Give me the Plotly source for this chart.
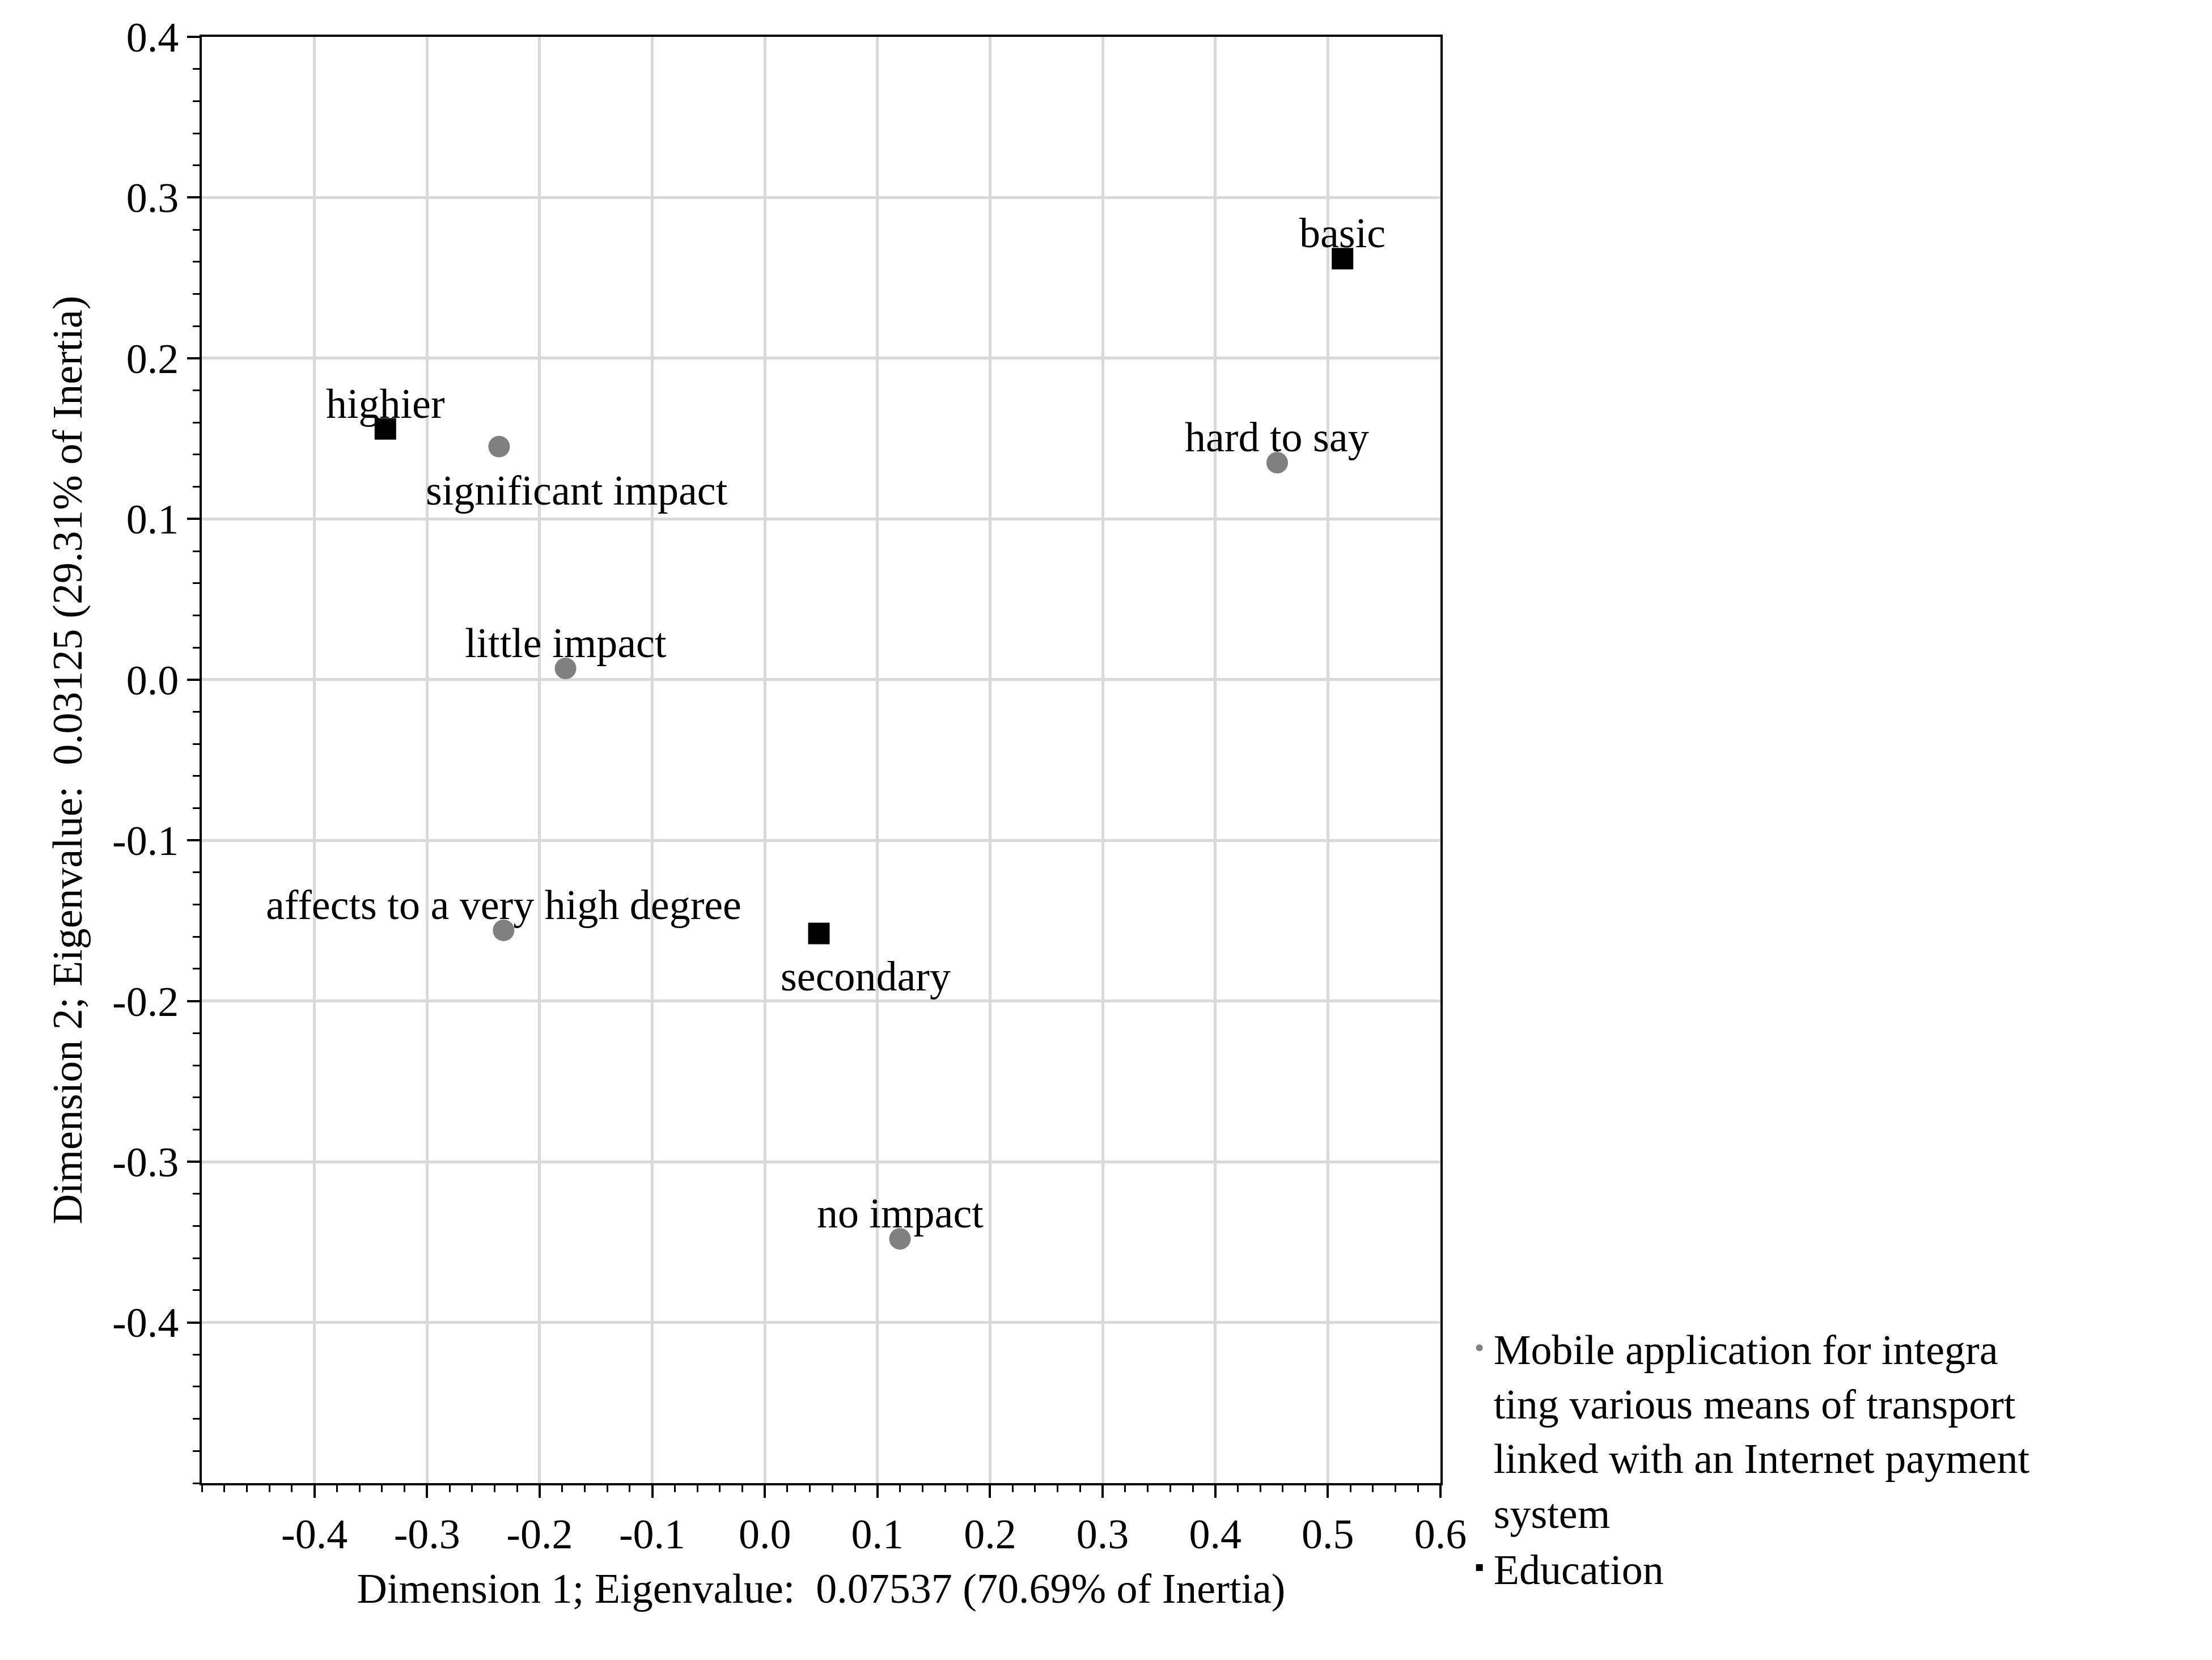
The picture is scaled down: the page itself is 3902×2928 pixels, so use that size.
import plotly.graph_objects as go

# Row points: Mobile application ... (impact)
rows_labels = ["significant impact", "little impact", "affects to a very high degree", "no impact", "hard to say"]
rows_x = [-0.236, -0.177, -0.232, 0.120, 0.455]
rows_y = [0.145, 0.007, -0.156, -0.348, 0.135]

# Column points: Education
cols_labels = ["highier", "secondary", "basic"]
cols_x = [-0.337, 0.048, 0.513]
cols_y = [0.156, -0.158, 0.262]

x_ticks = [-0.4, -0.3, -0.2, -0.1, 0.0, 0.1, 0.2, 0.3, 0.4, 0.5, 0.6]
y_ticks = [-0.4, -0.3, -0.2, -0.1, 0.0, 0.1, 0.2, 0.3, 0.4]

font = dict(family="Liberation Serif", size=74, color="black")

fig = go.Figure()
fig.add_trace(go.Scatter(
    x=rows_x, y=rows_y, mode="markers", cliponaxis=False,
    marker=dict(color="#808080", size=38, symbol="circle"),
    name="Mobile application for integra<br>ting various means of transport<br>linked with an Internet payment<br>system",
))
fig.add_trace(go.Scatter(
    x=cols_x, y=cols_y, mode="markers", cliponaxis=False,
    marker=dict(color="black", size=38, symbol="square"),
    name="Education",
))

# label offsets (pixels) relative to the points
shifts = {
    "significant impact": (137, -77),
    "secondary": (82, -75),
}
for labels, xs, ys in [(rows_labels, rows_x, rows_y), (cols_labels, cols_x, cols_y)]:
    for t, x, y in zip(labels, xs, ys):
        dx, dy = shifts.get(t, (0, 45))
        fig.add_annotation(x=x, y=y, text=t, showarrow=False, xshift=dx, yshift=dy,
                           xanchor="center", yanchor="middle", font=font)

def fmt(v):
    return f"{v:.1f}".replace("−", "-")

axis_common = dict(
    showgrid=True, gridcolor="#d9d9d9", gridwidth=5, zeroline=False,
    showline=True, linecolor="black", linewidth=4, mirror=True,
    ticks="outside", ticklen=22, tickwidth=4, tickcolor="black",
    minor=dict(dtick=0.02, ticks="outside", ticklen=12, tickwidth=3, tickcolor="black", showgrid=False),
    tickfont=font,
)
fig.update_xaxes(range=[-0.5, 0.6], tickvals=x_ticks, ticktext=[fmt(v) for v in x_ticks],
                 title=dict(text="Dimension 1; Eigenvalue:  0.07537 (70.69% of Inertia)", font=font, standoff=30),
                 **axis_common)
fig.update_yaxes(range=[-0.5, 0.4], tickvals=y_ticks, ticktext=[fmt(v) for v in y_ticks],
                 title=dict(text="Dimension 2; Eigenvalue:  0.03125 (29.31% of Inertia)", font=font, standoff=30),
                 **axis_common)

fig.update_layout(
    width=3902, height=2928,
    margin=dict(l=348, r=1369, t=57, b=320),
    plot_bgcolor="white", paper_bgcolor="white",
    font=font,
    legend=dict(x=1.02, y=0.115, xanchor="left", yanchor="top", font=font,
                bgcolor="rgba(0,0,0,0)", itemsizing="constant", valign="top", itemwidth=40),
)
fig.write_html("out.html")
